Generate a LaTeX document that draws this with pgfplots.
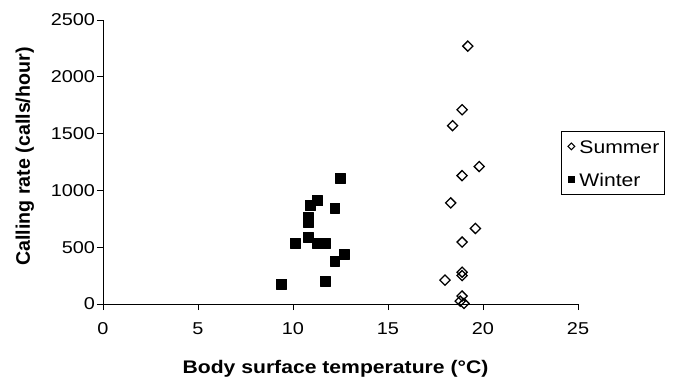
\documentclass[border=0pt]{standalone}
\usepackage{fontspec}
\setmainfont{Liberation Sans}
\newfontfamily\wide[FakeStretch=1.16]{Liberation Sans}
\usepackage{pgfplots}
\pgfplotsset{compat=1.18}
\begin{document}
\begin{tikzpicture}
\useasboundingbox (-103bp,-74bp) rectangle (572bp,304bp);
\begin{axis}[
  at={(0,0)}, anchor=south west,
  scale only axis, width=475bp, height=284bp,
  xmin=0, xmax=25, ymin=0, ymax=2500,
  xtick={0,5,...,25}, ytick={0,500,...,2500},
  axis x line*=bottom, axis y line*=left,
  axis line style={line width=0.8pt, -},
  tick style={line width=0.8pt, black},
  tick align=outside, major tick length=6bp,
  tick label style={font=\wide\fontsize{17.2}{20}\selectfont},
  xticklabel style={yshift=-9bp},
  yticklabel style={xshift=1.5bp},
  /pgf/number format/assume math mode=true,
  /pgf/number format/1000 sep={},
  xlabel={\wide\fontsize{18.3}{22}\selectfont\bfseries Body surface temperature (°C)},
  ylabel={\fontsize{19.7}{23}\selectfont\bfseries Calling rate (calls/hour)},
  xlabel style={at={(0.5,0)}, anchor=base, yshift=-69bp, xshift=-5bp},
  ylabel style={at={(0,0.5)}, anchor=base, yshift=73bp, xshift=5.5bp},
  legend style={at={(0.9642,0.609)}, anchor=north west, draw=black, line width=0.8pt,
    font=\wide\fontsize{18.3}{22}\selectfont, row sep=9bp, inner sep=3bp,
    nodes={inner sep=2bp, text height=17bp, text depth=3bp},
    /tikz/every odd column/.append style={column sep=0pt}},
  legend image code/.code={\path[draw=none] (0bp,-3bp) rectangle (13bp,3bp); \draw[#1] plot coordinates {(7bp,0bp)};},
  legend cell align=left,
  clip=false,
]
\addlegendimage{only marks, mark=square, mark size=2.4pt, mark options={rotate=45, line width=1.1pt, black, fill=white}}
\addlegendentry{Summer}
\addlegendimage{only marks, mark=square*, mark size=3.4pt, mark options={black, fill=black}}
\addlegendentry{Winter}
\addplot[forget plot, only marks, mark=square, mark size=3.6pt, mark options={rotate=45, line width=1.3pt, black, fill=white}]
coordinates {
(19.2,2270) (18.9,1710) (18.4,1570) (19.8,1210) (18.9,1130) (18.3,890)
(19.6,665) (18.9,545) (18.0,210) (18.9,280) (18.9,250) (18.9,70) (18.8,25) (19.0,5)
};
\addplot[forget plot, only marks, mark=square*, mark size=5pt, mark options={black, fill=black, line join=round, line width=0.6pt}]
coordinates {
(9.4,175) (10.1,535) (10.8,590) (10.8,720) (10.8,760) (10.9,870) (11.3,910)
(11.3,535) (11.7,535) (11.7,200) (12.2,845) (12.2,380) (12.5,1110) (12.7,440)
};
\end{axis}
\end{tikzpicture}
\end{document}
